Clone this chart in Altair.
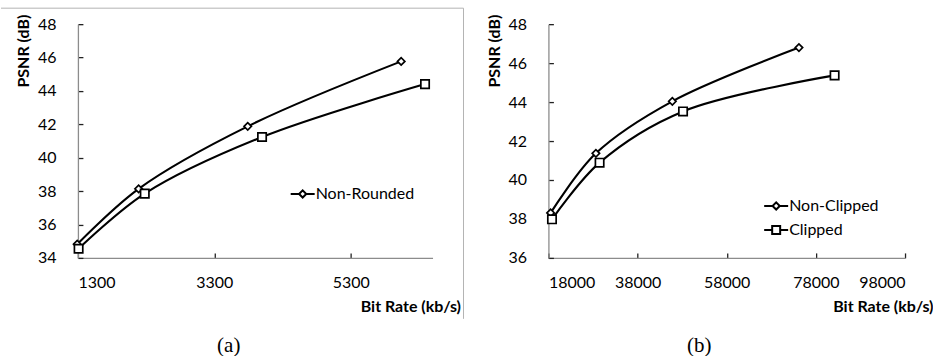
import altair as alt
import pandas as pd

# ---------- data ----------
a_series = ["Non-Rounded", "Rounded"]
a_nonround_x = [1290, 2190, 3790, 6040]
a_nonround_y = [34.82, 38.14, 41.88, 45.77]
a_round_x = [1310, 2280, 4000, 6390]
a_round_y = [34.55, 37.85, 41.24, 44.41]

b_series = ["Non-Clipped", "Clipped"]
b_nonclip_x = [18500, 28650, 45800, 74200]
b_nonclip_y = [38.31, 41.37, 44.04, 46.80]
b_clip_x = [18800, 29480, 48200, 82200]
b_clip_y = [37.98, 40.89, 43.52, 45.37]

a_xticks = [1300, 3300, 5300]
a_yticks = [34, 36, 38, 40, 42, 44, 46, 48]
b_xticks = [18000, 38000, 58000, 78000, 98000]
b_yticks = [36, 38, 40, 42, 44, 46, 48]

x_title = "Bit Rate (kb/s)"
y_title = "PSNR (dB)"
captions = ["(a)", "(b)"]

FONT = "Lato"
# legend glyphs: a short line with the series marker in the middle
LEG_PATHS = ["M-3,0L-0.9,0M0.9,0L3,0M-0.9,0L0,-0.9L0.9,0L0,0.9Z",
             "M-3,0L-1,0M1,0L3,0M-1,-1L1,-1L1,1L-1,1Z"]


def frame(xs1, ys1, xs2, ys2, names):
    rows = []
    for i, (x, y) in enumerate(zip(xs1, ys1)):
        rows.append({"rate": x, "psnr": y, "series": names[0], "order": i})
    for i, (x, y) in enumerate(zip(xs2, ys2)):
        rows.append({"rate": x, "psnr": y, "series": names[1], "order": i})
    return pd.DataFrame(rows)


def panel(df, names, legend_names, xdom, xticks, ydom, yticks, w, h,
          legx, legy, caption, cap_x, border):
    xenc = alt.X("rate:Q", scale=alt.Scale(domain=xdom, nice=False, zero=False),
                 axis=alt.Axis(values=xticks, format="d", title=x_title,
                               titleX=w + 28, titleY=49, titleAlign="right",
                               titleBaseline="middle", titleAnchor="end",
                               tickSize={"expr": "-5"}, labelPadding=22))
    yenc = alt.Y("psnr:Q", scale=alt.Scale(domain=ydom, nice=False, zero=False),
                 axis=alt.Axis(values=yticks, title=y_title,
                               titleX=-54, titleY=-10, titleAlign="right",
                               titleBaseline="middle", titleAngle=270,
                               tickSize={"expr": "-5"}, labelPadding=27))
    base = alt.Chart(df).encode(x=xenc, y=yenc)
    layers = []
    for k, name in enumerate(names):
        if name in legend_names:
            row = legend_names.index(name)
            leg = alt.Legend(
                title=None, orient="none", legendX=legx,
                legendY=legy + 24 * row, symbolType=LEG_PATHS[k],
                symbolSize=64, symbolStrokeWidth=2,
                symbolStrokeColor="black", symbolFillColor="white",
                labelFont=FONT, labelFontSize=16, labelColor="black",
                labelOffset=5, padding=0)
        else:
            leg = None
        layers.append(
            base.transform_filter(alt.datum.series == name)
            .mark_line(strokeWidth=2.1, interpolate="catmull-rom")
            .encode(color=alt.Color("series:N",
                                    scale=alt.Scale(domain=[name], range=["black"]),
                                    legend=leg),
                    order="order:Q"))
    pts = base.mark_point(filled=True, fill="white", stroke="black",
                          strokeWidth=1.7, opacity=1).encode(
        shape=alt.Shape("series:N",
                        scale=alt.Scale(domain=names, range=["diamond", "square"]),
                        legend=None),
        size=alt.Size("series:N",
                      scale=alt.Scale(domain=names, range=[55, 70]),
                      legend=None))
    cap = alt.Chart(pd.DataFrame({"cap": [caption]})).mark_text(
        font="Liberation Serif", fontSize=21, color="black", baseline="middle"
    ).encode(text="cap:N", x=alt.value(cap_x), y=alt.value(322))
    layers += [pts, cap]
    if border:
        deco = pd.DataFrame({"k": [0]})
        top = alt.Chart(deco).mark_rule(color="#b4b4b4", strokeWidth=1).encode(
            x=alt.value(-77), x2=alt.value(386), y=alt.value(-16))
        right = alt.Chart(deco).mark_rule(color="#b4b4b4", strokeWidth=1).encode(
            x=alt.value(386), y=alt.value(-16), y2=alt.value(295))
        layers += [top, right]
    return alt.layer(*layers).resolve_scale(color="independent").properties(
        width=w, height=h)


df_a = frame(a_nonround_x, a_nonround_y, a_round_x, a_round_y, a_series)
df_b = frame(b_nonclip_x, b_nonclip_y, b_clip_x, b_clip_y, b_series)

pa = panel(df_a, a_series, ["Non-Rounded"], [1300, 6500], a_xticks,
           [34, 48], a_yticks, 355, 234, 217, 162, captions[0], 151, True)
pb = panel(df_b, b_series, b_series, [18000, 98000],
           b_xticks, [36, 48], b_yticks, 357, 234, 220, 174, captions[1], 151, False)

chart = alt.hconcat(pa, pb, spacing=22).resolve_scale(
    color="independent", shape="independent", size="independent"
).properties(
    padding={"left": 0, "top": 7, "right": 0, "bottom": 0},
    background="white"
).configure_view(stroke=None).configure_axis(
    grid=False, domainColor="#8c8c8c", domainWidth=1.3, tickColor="#222",
    tickWidth=1.3, labelFont=FONT, labelFontSize=16, labelColor="black",
    titleFont=FONT, titleFontSize=16, titleFontWeight="bold", titleColor="black"
)

chart.save("out.html", embed_options={"renderer": "svg", "actions": False})
